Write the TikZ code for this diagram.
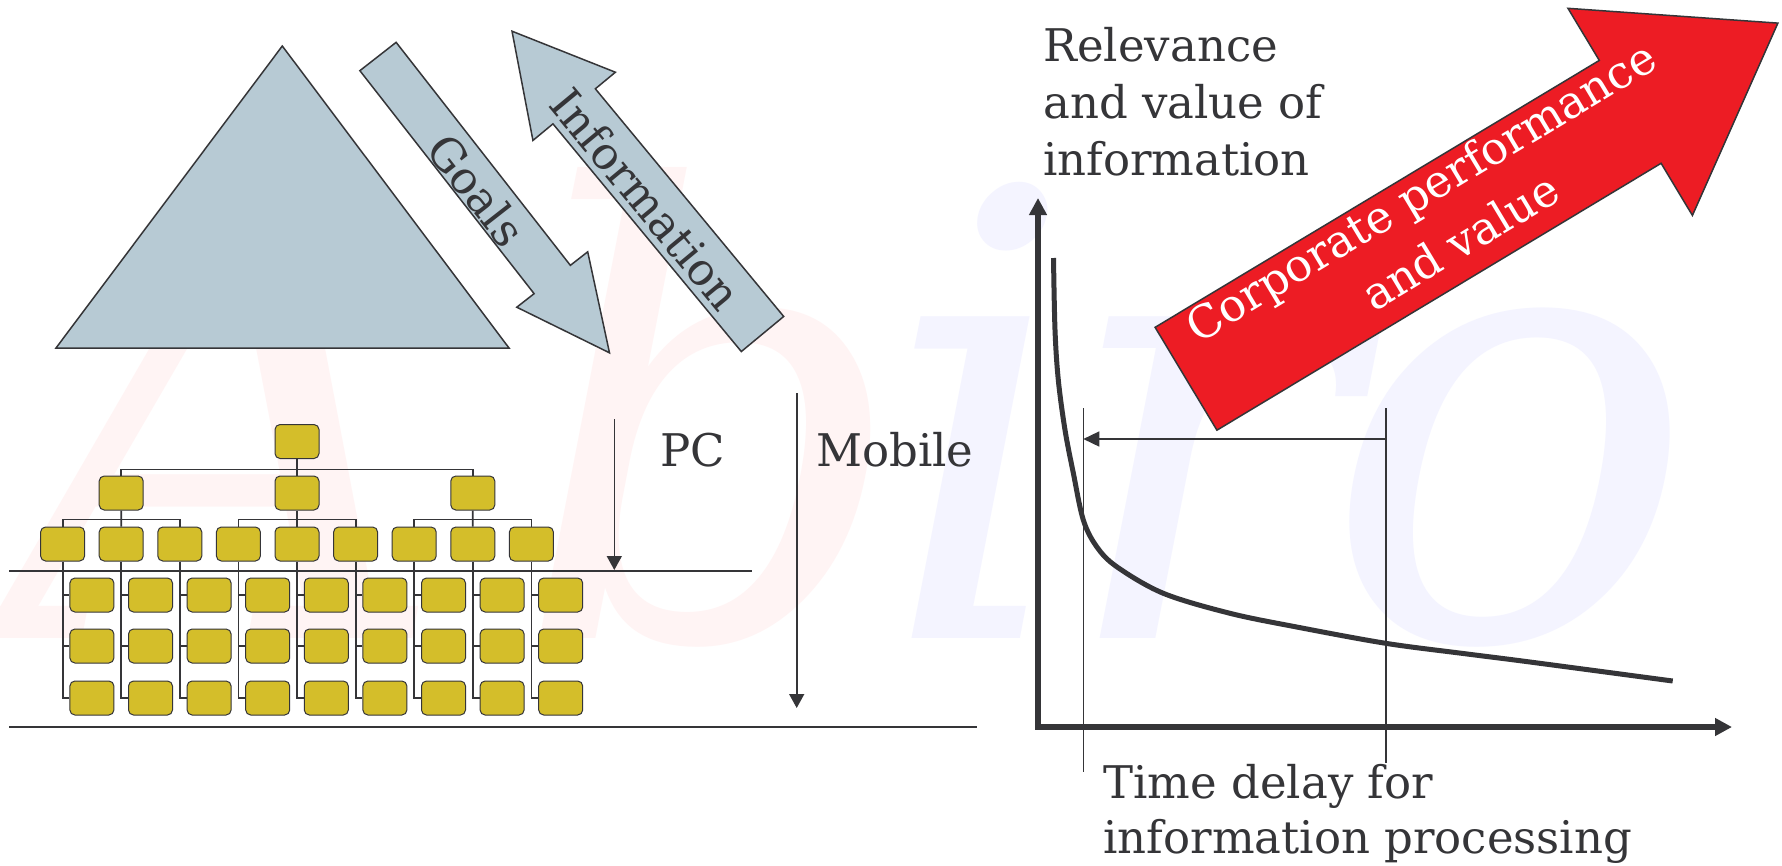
\documentclass[tikz,border=0pt]{standalone}
\usepackage{fontspec}
\setmainfont{DejaVu Serif}
\usetikzlibrary{arrows.meta}
\definecolor{ink}{HTML}{353538}
\definecolor{pyr}{HTML}{B7CAD4}
\definecolor{gold}{HTML}{D4BE2A}
\definecolor{redarrow}{HTML}{ED1C24}
\definecolor{wmred}{HTML}{FFF4F4}
\definecolor{wmblue}{HTML}{F4F4FF}
\begin{document}
\begin{tikzpicture}[x=1pt,y=-1pt,
  txt/.style={font=\fontsize{45}{56}\selectfont, text=ink, inner sep=0pt},
  wm/.style={font=\fontsize{620}{620}\selectfont\itshape, inner sep=0pt, anchor=base},
  outl/.style={draw=ink, line width=1.5pt, line join=miter},
  ob/.style={draw=ink, line width=1pt, fill=gold, rounded corners=5pt, minimum width=44pt, minimum height=34pt, inner sep=0pt},
  conn/.style={draw=ink, line width=1.8pt},
  thinl/.style={draw=ink, line width=1.6pt},
  tri/.style={-{Triangle[length=14pt,width=15pt]}},
  axisl/.style={draw=ink, line width=6pt, line join=miter},
]
\useasboundingbox (0,0) rectangle (1782,865);
\fill[white] (0,0) rectangle (1782,865);

% watermark
\node[wm, text=wmred] (wA) at (226,638) {A};
\node[wm, text=wmred] (wb) at (712,638) {b};
\node[wm, text=wmblue] (wi) at (980,638) {i};
\node[wm, text=wmblue] (wr) at (1205,638) {r};
\node[wm, text=wmblue] (wo) at (1510,638) {o};

% pyramid
\draw[outl, fill=pyr] (282.3,46) -- (509,348) -- (56,348) -- cycle;

% Goals arrow
\begin{scope}[shift={(378,56.5)}, rotate=-52]
\draw[outl, fill=pyr] (0,-23) -- (283,-23) -- (283,-45) -- (376,0) -- (283,45) -- (283,23) -- (0,23) -- cycle;
\end{scope}
\node[txt, rotate=-52] (goals) at (477,190) {Goals};

% Information arrow
\begin{scope}[shift={(762.5,334)}, rotate=129.6]
\draw[outl, fill=pyr] (0,-27.5) -- (295.5,-27.5) -- (295.5,-53.5) -- (393,0) -- (295.5,53.5) -- (295.5,27.5) -- (0,27.5) -- cycle;
\end{scope}
\node[txt, rotate=-50.4] (info) at (646,199) {Information};

% org chart
\node[ob] (top) at (297,441.5) {};
\foreach \i/\x in {1/121.2, 2/297, 3/472.8}
  \node[ob] (m\i) at (\x,493) {};
\foreach \k in {0,...,8} {
  \pgfmathsetmacro\xx{297+58.6*(\k-4)}
  \node[ob] (l\k) at (\xx,544) {};
  \foreach \r/\yy in {1/595,2/646,3/698}
    \node[ob] (b\k\r) at (\xx+29.3,\yy) {};
}
\path (top.south) ++(0,10.5) coordinate (j0);
\draw[conn] (top) -- (m2);
\draw[conn] (m1.north) |- (j0) -| (m3.north);
\foreach \j/\a/\b/\c in {1/0/1/2, 2/3/4/5, 3/6/7/8} {
  \path (m\j.south) ++(0,9) coordinate (j\j);
  \draw[conn] (l\a.north) |- (j\j) -| (l\c.north);
  \draw[conn] (m\j) -- (l\b);
}
\foreach \k in {0,...,8} {
  \draw[conn] (l\k.south) |- (b\k3.west);
  \draw[conn] (l\k.south |- b\k1.west) -- (b\k1.west);
  \draw[conn] (l\k.south |- b\k2.west) -- (b\k2.west);
}

% level lines and arrows
\coordinate (pcL) at (9,571);
\coordinate (pcR) at (751.7,571);
\coordinate (moL) at (9,727);
\coordinate (moR) at (977,727);
\draw[thinl] (pcL) -- (pcR);
\draw[thinl] (moL) -- (moR);
\coordinate (pcTop) at (614.3,419.3);
\coordinate (pcTip) at (614.3,570);
\coordinate (moTop) at (796.7,393.3);
\coordinate (moTip) at (796.7,708);
\draw[thinl, tri] (pcTop) -- (pcTip);
\draw[thinl, tri] (moTop) -- (moTip);
\node[txt, anchor=base west] (pc) at (660,466) {PC};
\node[txt, anchor=base west] (mobile) at (816,466) {Mobile};

% graph
\coordinate (yTip) at (1038,198);
\coordinate (orig) at (1038,727);
\coordinate (xTip) at (1732,727);
\draw[axisl, {Triangle[length=17pt,width=17pt]}-{Triangle[length=17pt,width=17pt]}] (yTip) -- (orig) -- (xTip);
\draw[draw=ink, line width=5pt] plot[smooth, tension=0.55] coordinates {
 (1053.5,258) (1055,330) (1058.3,380) (1065,430) (1073.3,473) (1083.3,520)
 (1096.7,546.7) (1116.7,566.7) (1163.3,593.3) (1230,613.3) (1296.7,627)
 (1385.7,643.3) (1463.3,653.5) (1530,662) (1672.7,681)};
\coordinate (dL1) at (1083.3,408);
\coordinate (dL2) at (1083.3,772);
\coordinate (dR1) at (1385.7,408);
\coordinate (dR2) at (1385.7,763);
\coordinate (dA1) at (1385.7,439);
\coordinate (dA2) at (1083.3,439);
\draw[thinl] (dL1) -- (dL2);
\draw[thinl] (dR1) -- (dR2);
\draw[thinl, -{Triangle[length=16pt,width=15pt]}] (dA1) -- (dA2);

\node[txt, anchor=base west] (rel1) at (1043,61) {Relevance};
\node[txt, anchor=base west] (rel2) at (1043,118.3) {and value of};
\node[txt, anchor=base west] (rel3) at (1043,175.7) {information};
\node[txt, anchor=base west] (td1) at (1103.3,798.3) {Time delay for};
\node[txt, anchor=base west] (td2) at (1103.3,853.3) {information processing};

% red arrow
\begin{scope}[shift={(1186,378.75)}, rotate=31]
\draw[outl, fill=redarrow] (0,-60) -- (518.2,-60) -- (518.2,-120.8) -- (690.5,0) -- (518.2,120.8) -- (518.2,60) -- (0,60) -- cycle;
\end{scope}
\node[txt, text=white, anchor=base, rotate=31] (corp1) at (1429,205.5) {Corporate performance};
\node[txt, text=white, anchor=base, rotate=31] (corp2) at (1468.8,255.3) {and value};
\end{tikzpicture}
\end{document}
